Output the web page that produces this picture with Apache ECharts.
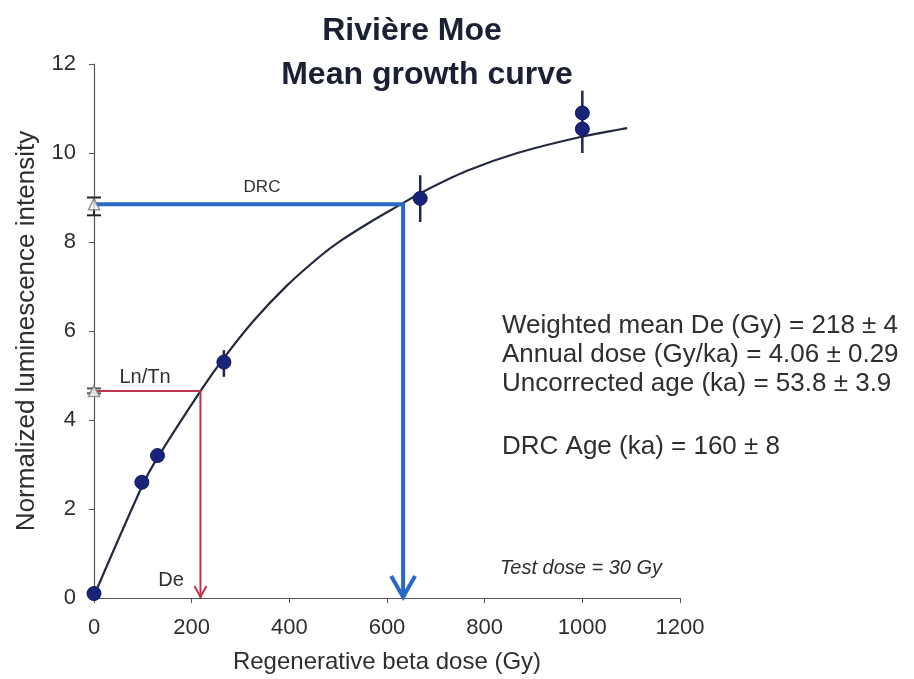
<!DOCTYPE html>
<html>
<head>
<meta charset="utf-8">
<script src="https://cdn.jsdelivr.net/npm/echarts@6/dist/echarts.min.js"></script>
<style>
html,body{margin:0;padding:0;background:#fff;}
#c{width:914px;height:679px;}
</style>
</head>
<body>
<div id="c"></div>
<script>
// ---- data ----
const xTicks = [0, 200, 400, 600, 800, 1000, 1200];
const yTicks = [0, 2, 4, 6, 8, 10, 12];

// fitted growth curve
const curveX = [0, 100, 130, 218, 265, 326, 395, 463, 504, 566, 621, 674, 764, 867, 996, 1092];
const curveY = [0.05, 2.55, 3.15, 4.65, 5.38, 6.22, 7.02, 7.68, 8.02, 8.45, 8.8, 9.13, 9.6, 10.0, 10.36, 10.56];

// regenerated dose points
const pointX = [0, 98, 130, 266, 668, 1000, 1000];
const pointY = [0.1, 2.6, 3.2, 5.3, 8.98, 10.9, 10.54];

// error bars on regenerated points
const errX    = [0, 98, 130, 266, 668, 1000];
const errLow  = [0.0, 2.5, 3.1, 4.97, 8.45, 10.0];
const errHigh = [0.2, 2.7, 3.3, 5.57, 9.5, 11.4];

// natural signals (triangles on the y axis)
const drcSignal = 8.85, drcErr = [8.6, 9.0], drcDose = 633;
const lnTnSignal = 4.65, lnTnErr = [4.6, 4.71], deDose = 218;

const statLines = [
  'Weighted mean De (Gy) = 218 \u00b1 4',
  'Annual dose (Gy/ka) = 4.06 \u00b1 0.29',
  'Uncorrected age (ka) = 53.8 \u00b1 3.9',
  'DRC Age (ka) = 160 \u00b1 8'
];

const FONT = '"Liberation Sans", Arial, sans-serif';
const TXT = '#2e2e2e';
const BLUE = '#2a68c8';
const RED = '#c0344e';
const NAVY = '#18237a';

const chart = echarts.init(document.getElementById('c'), null, {renderer: 'canvas'});

function arrowItem(color, w, h, lw) {
  return function (params, api) {
    const tip = api.coord([api.value(0), api.value(1)]);
    return {
      type: 'polyline',
      shape: {points: [[tip[0] - w, tip[1] - h], [tip[0], tip[1] - 1], [tip[0] + w, tip[1] - h]]},
      style: {stroke: color, lineWidth: lw, fill: null, lineJoin: 'miter'}
    };
  };
}

const option = {
  animation: false,
  backgroundColor: '#ffffff',
  grid: {left: 94, right: 234, top: 64, bottom: 81, containLabel: false},
  xAxis: {
    type: 'value', min: 0, max: 1200, interval: 200,
    name: 'Regenerative beta dose (Gy)', nameLocation: 'middle', nameGap: 52,
    nameTextStyle: {fontFamily: FONT, fontSize: 24, color: TXT},
    axisLine: {show: true, lineStyle: {color: '#555', width: 1.2}},
    axisTick: {show: true, inside: false, length: 5, lineStyle: {color: '#555'}},
    axisLabel: {fontFamily: FONT, fontSize: 22, color: TXT, margin: 19,
      formatter: v => xTicks.indexOf(v) >= 0 ? String(v) : ''},
    splitLine: {show: false}
  },
  yAxis: {
    type: 'value', min: 0, max: 12, interval: 2,
    name: 'Normalized luminescence intensity', nameLocation: 'middle', nameGap: 54,
    nameTextStyle: {fontFamily: FONT, fontSize: 26, color: TXT},
    axisLine: {show: true, onZero: false, lineStyle: {color: '#555', width: 1.2}},
    axisTick: {show: true, inside: false, length: 5, lineStyle: {color: '#555'}},
    axisLabel: {fontFamily: FONT, fontSize: 22, color: TXT, margin: 18,
      formatter: v => yTicks.indexOf(v) >= 0 ? String(v) : ''},
    splitLine: {show: false}
  },
  series: [
    {
      name: 'curve', type: 'line', smooth: 0.3, symbol: 'none', z: 3,
      lineStyle: {color: '#232a3c', width: 2.2},
      data: curveX.map((x, i) => [x, curveY[i]])
    },
    {
      name: 'DRC', type: 'line', symbol: 'none', z: 4,
      lineStyle: {color: BLUE, width: 4, join: 'miter'},
      data: [[0, drcSignal], [drcDose, drcSignal], [drcDose, 0]]
    },
    {
      name: 'LnTn', type: 'line', symbol: 'none', z: 4,
      lineStyle: {color: RED, width: 2},
      data: [[0, lnTnSignal], [deDose, lnTnSignal], [deDose, 0]]
    },
    {
      name: 'blueArrow', type: 'custom', z: 5,
      renderItem: arrowItem(BLUE, 12, 22, 4),
      data: [[drcDose, 0]]
    },
    {
      name: 'redArrow', type: 'custom', z: 5,
      renderItem: arrowItem(RED, 6, 12, 2),
      data: [[deDose, 0]]
    },
    {
      name: 'errors', type: 'custom', z: 6,
      renderItem: function (params, api) {
        const a = api.coord([api.value(0), api.value(1)]);
        const b = api.coord([api.value(0), api.value(2)]);
        return {type: 'line', shape: {x1: a[0], y1: a[1], x2: b[0], y2: b[1]},
          style: {stroke: '#1c2650', lineWidth: 2.5}};
      },
      data: errX.map((x, i) => [x, errLow[i], errHigh[i]])
    },
    {
      name: 'natErr', type: 'custom', z: 6,
      renderItem: function (params, api) {
        const a = api.coord([api.value(0), api.value(1)]);
        const b = api.coord([api.value(0), api.value(2)]);
        const col = api.value(3) === 1 ? '#222' : '#555';
        const st = {stroke: col, lineWidth: 2};
        return {type: 'group', children: [
          {type: 'line', shape: {x1: a[0], y1: a[1], x2: b[0], y2: b[1]}, style: st},
          {type: 'line', shape: {x1: a[0] - 7, y1: a[1], x2: a[0] + 7, y2: a[1]}, style: st},
          {type: 'line', shape: {x1: b[0] - 7, y1: b[1], x2: b[0] + 7, y2: b[1]}, style: st}
        ]};
      },
      data: [[0, drcErr[0], drcErr[1], 1], [0, lnTnErr[0], lnTnErr[1], 0]]
    },
    {
      name: 'natural', type: 'scatter', z: 7,
      symbol: 'triangle', symbolSize: 11,
      itemStyle: {color: '#ffffff', borderColor: '#777', borderWidth: 1.5},
      data: [[0, drcSignal], [0, lnTnSignal]]
    },
    {
      name: 'points', type: 'scatter', z: 8,
      symbol: 'circle', symbolSize: 14,
      itemStyle: {color: NAVY, borderColor: '#121a5a', borderWidth: 1, opacity: 1},
      data: pointX.map((x, i) => [x, pointY[i]])
    }
  ],
  graphic: [
    {type: 'text', x: 412, y: 31, style: {text: 'Rivi\u00e8re Moe', font: 'bold 32px ' + FONT, fill: '#1b2133', textAlign: 'center', textVerticalAlign: 'middle'}},
    {type: 'text', x: 427, y: 75, style: {text: 'Mean growth curve', font: 'bold 32px ' + FONT, fill: '#1b2133', textAlign: 'center', textVerticalAlign: 'middle'}},
    {type: 'text', x: 262, y: 187, style: {text: 'DRC', font: '17px ' + FONT, fill: TXT, textAlign: 'center', textVerticalAlign: 'middle'}},
    {type: 'text', x: 145, y: 377, style: {text: 'Ln/Tn', font: '20px ' + FONT, fill: TXT, textAlign: 'center', textVerticalAlign: 'middle'}},
    {type: 'text', x: 171, y: 580, style: {text: 'De', font: '20px ' + FONT, fill: TXT, textAlign: 'center', textVerticalAlign: 'middle'}},
    {type: 'text', x: 581, y: 568, style: {text: 'Test dose = 30 Gy', font: 'italic 20px ' + FONT, fill: TXT, textAlign: 'center', textVerticalAlign: 'middle'}},
    {type: 'text', x: 502, y: 326, style: {text: statLines[0], font: '26px ' + FONT, fill: TXT, textAlign: 'left', textVerticalAlign: 'middle'}},
    {type: 'text', x: 502, y: 355, style: {text: statLines[1], font: '26px ' + FONT, fill: TXT, textAlign: 'left', textVerticalAlign: 'middle'}},
    {type: 'text', x: 502, y: 384, style: {text: statLines[2], font: '26px ' + FONT, fill: TXT, textAlign: 'left', textVerticalAlign: 'middle'}},
    {type: 'text', x: 502, y: 447, style: {text: statLines[3], font: '26px ' + FONT, fill: TXT, textAlign: 'left', textVerticalAlign: 'middle'}}
  ]
};
chart.setOption(option);
</script>
</body>
</html>
